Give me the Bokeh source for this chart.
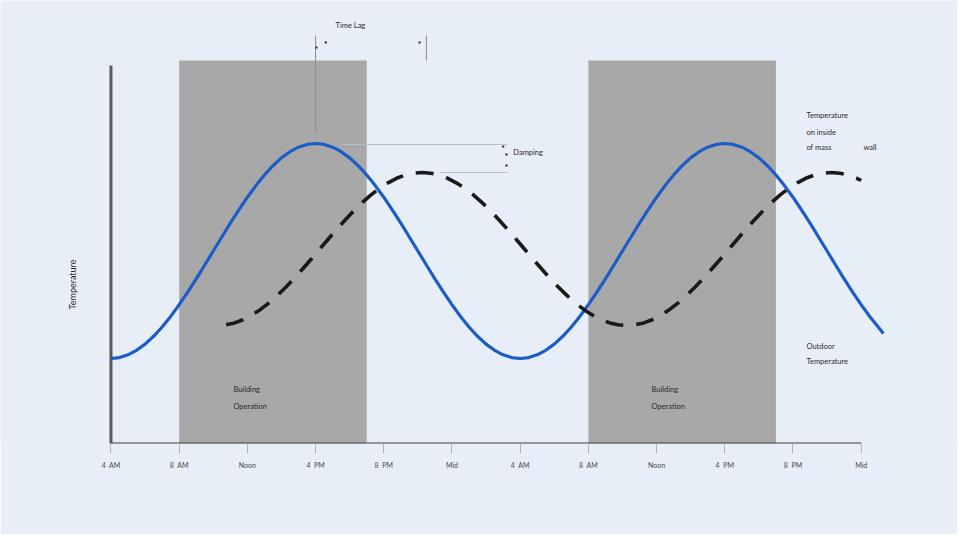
import math
from bokeh.plotting import figure
from bokeh.models import Range1d, FixedTicker, Label
from bokeh.core.properties import value
from bokeh.embed import file_html
from bokeh.resources import INLINE

# ---------------- data ----------------
tick_hours = [4, 8, 12, 16, 20, 24, 28, 32, 36, 40, 44, 48]
tick_labels = ["4\u00a0\u00a0AM", "8\u00a0\u00a0AM", "Noon", "4\u00a0\u00a0PM", "8\u00a0\u00a0PM", "Mid",
               "4\u00a0\u00a0AM", "8\u00a0\u00a0AM", "Noon", "4\u00a0\u00a0PM", "8\u00a0\u00a0PM", "Mid"]

op_start = [8, 32]
op_end = [19, 43]

outdoor_hours = [4, 4.5, 5, 5.5, 6, 6.5, 7, 7.5, 8, 8.5, 9, 9.5, 10, 10.5, 11, 11.5,
                 12, 12.5, 13, 13.5, 14, 14.5, 15, 15.5, 16, 16.5, 17, 17.5, 18, 18.5,
                 19, 19.5, 20, 20.5, 21, 21.5, 22, 22.5, 23, 23.5, 24, 24.5, 25, 25.5,
                 26, 26.5, 27, 27.5, 28, 28.5, 29, 29.5, 30, 30.5, 31, 31.5, 32, 32.5,
                 33, 33.5, 34, 34.5, 35, 35.5, 36, 36.5, 37, 37.5, 38, 38.5, 39, 39.5,
                 40, 40.5, 41, 41.5, 42, 42.5, 43, 43.5, 44, 44.5, 45, 45.5, 46, 46.5,
                 47, 47.5, 48, 48.5, 49, 49.3]
outdoor_temp = [85, 85.9, 88.7, 93.2, 99.4, 107.2, 116.5, 127.1, 138.8, 151.4, 164.7, 178.5,
                192.5, 206.5, 220.3, 233.6, 246.3, 257.9, 268.5, 277.8, 285.6, 291.8, 296.3,
                299.1, 300, 299.1, 296.3, 291.8, 285.6, 277.8, 268.5, 257.9, 246.3, 233.6,
                220.3, 206.5, 192.5, 178.5, 164.7, 151.4, 138.8, 127.1, 116.5, 107.2, 99.4,
                93.2, 88.7, 85.9,
                85, 85.9, 88.7, 93.2, 99.4, 107.2, 116.5, 127.1, 138.8, 151.4, 164.7, 178.5,
                192.5, 206.5, 220.3, 233.6, 246.3, 257.9, 268.5, 277.8, 285.6, 291.8, 296.3,
                299.1, 300, 299.1, 296.3, 291.8, 285.6, 277.8, 268.5, 257.9, 246.3, 233.6,
                220.3, 206.5, 192.5, 178.5, 164.7, 151.4, 138.8, 127.1, 116.5, 110]

wall_hours = [10.75, 11.25, 11.75, 12.25, 12.75, 13.25, 13.75, 14.25, 14.75, 15.25, 15.75,
              16.25, 16.75, 17.25, 17.75, 18.25, 18.75, 19.25, 19.75, 20.25, 20.75, 21.25,
              21.75, 22.25, 22.75, 23.25, 23.75, 24.25, 24.75, 25.25, 25.75, 26.25, 26.75,
              27.25, 27.75, 28.25, 28.75, 29.25, 29.75, 30.25, 30.75, 31.25, 31.75, 32.25,
              32.75, 33.25, 33.75, 34.25, 34.75, 35.25, 35.75, 36.25, 36.75, 37.25, 37.75,
              38.25, 38.75, 39.25, 39.75, 40.25, 40.75, 41.25, 41.75, 42.25, 42.75, 43.25,
              43.75, 44.25, 44.75, 45.25, 45.75, 46.25, 46.75, 47.25, 47.75, 48]
wall_temp = [118.7, 120.6, 123.8, 128.3, 133.8, 140.4, 147.9, 156.3, 165.2, 174.7, 184.5,
             194.5, 204.5, 214.3, 223.8, 232.8, 241.1, 248.6, 255.2, 260.7, 265.2, 268.4,
             270.3, 271, 270.3, 268.4, 265.2, 260.7, 255.2, 248.6, 241.1, 232.8, 223.8,
             214.3, 204.5, 194.5, 184.5, 174.7, 165.2, 156.3, 147.9, 140.4, 133.8, 128.3,
             123.8, 120.6, 118.7, 118, 118.7, 120.6, 123.8, 128.3, 133.8, 140.4, 147.9,
             156.3, 165.2, 174.7, 184.5, 194.5, 204.5, 214.3, 223.8, 232.8, 241.1, 248.6,
             255.2, 260.7, 265.2, 268.4, 270.3, 271, 270.3, 268.4, 265.2, 263]

# annotation texts
note_text = ["Time Lag", "Damping", "Temperature", "on inside", "of mass", "wall",
             "Outdoor", "Temperature", "Building", "Operation", "Building", "Operation"]
note_x = [17.17, 27.6, 44.79, 44.79, 44.79, 48.13, 44.79, 44.79, 11.18, 11.18, 35.7, 35.7]
note_y = [418, 291, 328, 311, 296, 296, 97, 82, 54, 37, 54, 37]

BG = "#e8eef8"
FONT = "Lato"
TXT = "#2a2a2a"

p = figure(width=957, height=534, x_range=Range1d(-2.48, 53.65), y_range=Range1d(0, 443),
           output_backend="svg", toolbar_location=None,
           min_border_left=0, min_border_right=0, min_border_top=0, min_border_bottom=91)
p.background_fill_color = BG
p.border_fill_color = BG
p.outline_line_color = None
p.xgrid.visible = False
p.ygrid.visible = False
p.yaxis.visible = False

ax = p.xaxis[0]
ax.ticker = FixedTicker(ticks=tick_hours)
ax.major_label_overrides = {h: t for h, t in zip(tick_hours, tick_labels)}
ax.axis_line_color = None
ax.minor_tick_line_color = None
ax.major_tick_line_color = "#b4b4b4"
ax.major_tick_out = 10
ax.major_tick_in = 0
ax.major_label_standoff = 7
ax.major_label_text_font = FONT
ax.major_label_text_font_size = "7px"
ax.major_label_text_color = "#4a4a4a"

# building operation shading
p.quad(left=op_start, right=op_end, bottom=[0, 0], top=[383, 383],
       fill_color="#a8a8a8", line_color=None)

# axis lines
p.segment(x0=[4], y0=[0], x1=[4], y1=[378], line_color="#5a5a5a", line_width=3)
p.segment(x0=[4], y0=[0], x1=[48], y1=[0], line_color="#3c3c3c", line_width=2)

# annotation guide lines
p.segment(x0=[16, 22.5], y0=[408, 408], x1=[16, 22.5], y1=[311, 383],
          line_color="#8a8a8a", line_width=1)
p.segment(x0=[17.46, 23.33], y0=[299, 271], x1=[27.25, 27.25], y1=[299, 271],
          line_color="#b9bec8", line_width=1.2)
p.scatter(x=[16.05, 16.6, 22.1, 27.0, 27.2, 27.2], y=[396, 401, 401, 297, 289, 278],
          size=2.2, marker="square", fill_color="#333333", line_color=None)

# curves
p.line(outdoor_hours, outdoor_temp, line_color="#1b5cc6", line_width=3.2)
p.line(wall_hours, wall_temp, line_color="#1a1a1a", line_width=3.6, line_dash="18 13")

# texts
p.text(x=note_x, y=note_y, text=note_text, text_font=value(FONT), text_font_size="7.5px",
       text_baseline="middle", text_align="left", text_color=TXT)
p.text(x=[1.74], y=[159], text=["Temperature"], angle=math.pi / 2, text_font=value(FONT),
       text_font_size="9px", text_baseline="middle", text_align="center", text_color=TXT)

p.add_layout(Label(x=21.45, y=-50, text="Time of Day", text_align="center",
                   text_baseline="middle", text_font=FONT, text_font_size="10px",
                   text_color=TXT))

open("out.html", "w").write(file_html(p, INLINE))
